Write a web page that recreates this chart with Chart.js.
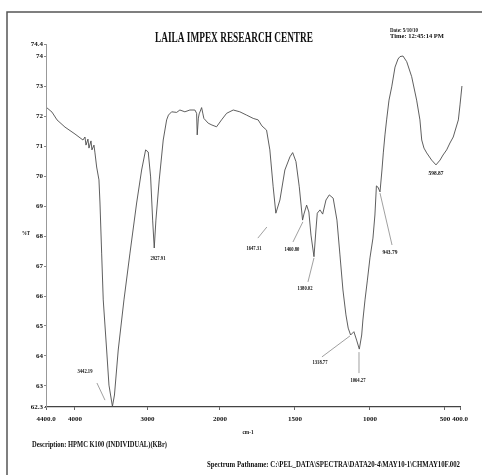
<!DOCTYPE html>
<html>
<head>
<meta charset="utf-8">
<script src="https://cdn.jsdelivr.net/npm/chart.js@4.4.1/dist/chart.umd.min.js"></script>
<style>
  html, body { margin: 0; padding: 0; background: #fff; }
  canvas { display: block; }
</style>
</head>
<body>
<canvas id="irChart" width="482" height="475"></canvas>
<script>
// spectrum (cm-1 / %T)
const wavenumber = [
    4386, 4317, 4248, 4138, 4000, 3890, 3862, 3848, 3821, 3807, 3779, 3766, 3738, 3724, 3701,
    3669, 3655, 3632, 3610, 3563, 3531, 3483, 3455, 3403, 3324, 3241, 3149, 3080, 3025, 2989,
    2956, 2928, 2906, 2883, 2837, 2782, 2735, 2710, 2666, 2597, 2552, 2483, 2414, 2345, 2321,
    2313, 2297, 2286, 2252, 2234, 2221, 2161, 2110, 2046, 1989, 1955, 1911, 1867, 1822, 1778,
    1745, 1720, 1689, 1667, 1645, 1627, 1600, 1567, 1533, 1515, 1493, 1471, 1449, 1440, 1422,
    1407, 1393, 1373, 1360, 1351, 1333, 1315, 1293, 1271, 1245, 1220, 1200, 1180, 1160, 1145,
    1129, 1107, 1089, 1071, 1055, 1047, 1033, 1017, 1000, 980, 967, 957, 947, 933, 920,
    911, 900, 889, 873, 855, 833, 813, 800, 780, 755, 722, 689, 667, 655, 640,
    622, 589, 560, 533, 513, 489, 467, 445, 411, 400, 387
];
const transmittance = [
    72.27, 72.13, 71.87, 71.63, 71.40, 71.20, 71.30, 71.03, 71.23, 70.93, 71.17, 70.87, 71.03, 70.77, 70.30,
    69.87, 69.10, 67.43, 65.87, 64.20, 63.03, 62.32, 62.70, 64.20, 65.87, 67.43, 69.10, 70.20, 70.87, 70.80,
    69.97, 68.53, 67.60, 68.53, 69.87, 71.20, 71.87, 72.03, 72.14, 72.12, 72.20, 72.14, 72.20, 72.20, 72.09,
    71.37, 71.93, 72.07, 72.28, 72.07, 71.92, 71.76, 71.70, 71.64, 71.87, 72.09, 72.20, 72.14, 72.03, 71.92,
    71.87, 71.67, 71.53, 70.87, 69.64, 68.76, 69.20, 70.20, 70.64, 70.78, 70.48, 69.64, 68.53, 68.73, 69.03,
    68.80, 68.03, 67.31, 68.20, 68.76, 68.87, 68.73, 69.20, 69.37, 69.26, 68.53, 67.37, 66.20, 65.37, 64.93,
    64.70, 64.81, 64.53, 64.23, 64.70, 65.20, 65.87, 66.53, 67.27, 67.93, 68.70, 69.67, 69.63, 69.47, 70.20,
    70.77, 71.37, 71.87, 72.53, 72.97, 73.63, 73.90, 73.98, 74.00, 73.81, 73.31, 72.53, 71.87, 71.20, 70.93,
    70.77, 70.53, 70.37, 70.53, 70.70, 70.87, 71.10, 71.30, 71.87, 72.37, 73.00
];

const xTicks = [4400, 4000, 3000, 2000, 1500, 1000, 500, 400];
const yTicks = [62.3, 63, 64, 65, 66, 67, 68, 69, 70, 71, 72, 73, 74, 74.4];

const peakLabels = ["3442.19", "2927.91", "1647.31", "1460.80", "1380.02", "1318.77", "1064.27", "943.79", "598.87"];

// where each peak label sits and its leader line, in axis units (cm-1, %T)
const peakNotes = [
    { at: [3862, 63.53], line: [[3697, 63.10], [3586, 62.53]] },
    { at: [2855, 67.27], line: null },
    { at: [1773, 67.63], line: [[1747, 67.93], [1687, 68.30]] },
    { at: [1520, 67.60], line: [[1513, 67.80], [1447, 68.47]] },
    { at: [1433, 66.27], line: [[1413, 66.47], [1373, 67.27]] },
    { at: [1333, 63.83], line: [[1320, 63.97], [1133, 64.67]] },
    { at: [1080, 63.23], line: [[1073, 63.43], [1073, 64.13]] },
    { at: [867, 67.50], line: [[853, 67.70], [933, 69.43]] },
    { at: [560, 70.13], line: null }
];

const X_MAX = 4400, X_BREAK = 2000, X_MIN = 400;
const SPLIT = 0.42;   // below 2000 cm-1 the axis is stretched 2x

// 📏 piecewise wavenumber axis (PerkinElmer style)
class WavenumberScale extends Chart.LinearScale {
    getPixelForValue(value) {
        let f;
        if (value >= X_BREAK) f = (X_MAX - value) / (X_MAX - X_BREAK) * SPLIT;
        else f = SPLIT + (X_BREAK - value) / (X_BREAK - X_MIN) * (1 - SPLIT);
        return this.left + f * this.width;
    }
    getValueForPixel(pixel) {
        const f = (pixel - this.left) / this.width;
        if (f <= SPLIT) return X_MAX - f / SPLIT * (X_MAX - X_BREAK);
        return X_BREAK - (f - SPLIT) / (1 - SPLIT) * (X_BREAK - X_MIN);
    }
}
WavenumberScale.id = 'wavenumber';
WavenumberScale.defaults = Chart.LinearScale.defaults;
Chart.register(WavenumberScale);

function fitText(ctx, text, x, y, width, font, align) {
    ctx.save();
    ctx.font = font;
    const k = width / ctx.measureText(text).width;
    ctx.translate(x, y);
    ctx.scale(k, 1);
    ctx.textAlign = align || 'left';
    ctx.fillText(text, 0, 0);
    ctx.restore();
}

// 🖨️ printout decorations
const printout = {
    id: 'printout',
    afterDraw(chart) {
        const ctx = chart.ctx;
        const xs = chart.scales.x, ys = chart.scales.y;
        const px = w => xs.getPixelForValue(w);
        const py = t => ys.getPixelForValue(t);

        ctx.save();
        // frame
        ctx.strokeStyle = '#555';
        ctx.lineWidth = 1.5;
        ctx.beginPath();
        ctx.moveTo(7, 475);
        ctx.lineTo(7, 12);
        ctx.lineTo(482, 12);
        ctx.stroke();

        ctx.fillStyle = '#111';
        ctx.textBaseline = 'alphabetic';
        fitText(ctx, 'LAILA IMPEX RESEARCH CENTRE', 234, 42, 158, 'bold 14px "Liberation Serif"', 'center');
        fitText(ctx, 'Date: 5/10/10', 390, 32, 28, 'bold 7px "Liberation Serif"');
        fitText(ctx, 'Time: 12:45:14 PM', 390, 38, 54, 'bold 7px "Liberation Serif"');
        fitText(ctx, '%T', 22, 235, 8, 'bold 7px "Liberation Serif"');
        fitText(ctx, 'cm-1', 248, 434, 11, 'bold 7px "Liberation Serif"', 'center');
        fitText(ctx, 'Description: HPMC K100 (INDIVIDUAL)(KBr)', 32, 447, 135, 'bold 8px "Liberation Serif"');
        fitText(ctx, 'Spectrum Pathname: C:\\PEL_DATA\\SPECTRA\\DATA20-4\\MAY10-1\\CHMAY10F.002', 207, 467, 253, 'bold 8px "Liberation Serif"');

        // peak labels
        ctx.strokeStyle = '#888';
        ctx.lineWidth = 0.8;
        peakNotes.forEach((n, i) => {
            if (n.line) {
                ctx.beginPath();
                ctx.moveTo(px(n.line[0][0]), py(n.line[0][1]));
                ctx.lineTo(px(n.line[1][0]), py(n.line[1][1]));
                ctx.stroke();
            }
            fitText(ctx, peakLabels[i], px(n.at[0]), py(n.at[1]) + 2.5, 15, 'bold 6px "Liberation Serif"', 'center');
        });
        ctx.restore();
    }
};

window.onload = () => {
    const ctx = document.getElementById('irChart').getContext('2d');
    const tickFont = { family: '"Liberation Serif"', size: 7, weight: 'bold' };

    new Chart(ctx, {
        type: 'line',
        data: {
            datasets: [{
                data: wavenumber.map((w, i) => ({ x: w, y: transmittance[i] })),
                borderColor: '#4d4d4d',
                borderWidth: 0.9,
                pointRadius: 0,
                tension: 0,
                fill: false,
                clip: false
            }]
        },
        options: {
            responsive: false,
            devicePixelRatio: 1,
            animation: false,
            events: [],
            layout: { padding: { top: 44, left: 10, right: 22, bottom: 0 } },
            plugins: {
                legend: { display: false },
                tooltip: { enabled: false }
            },
            scales: {
                x: {
                    type: 'wavenumber',
                    min: X_MIN,
                    max: X_MAX,
                    afterBuildTicks: axis => { axis.ticks = xTicks.map(v => ({ value: v })); },
                    afterFit: axis => { axis.height = 68; },
                    grid: { drawOnChartArea: false, tickLength: 3, color: '#666' },
                    border: { display: true, color: '#444', width: 1.2 },
                    ticks: {
                        autoSkip: false,
                        maxRotation: 0,
                        padding: 5,
                        color: '#111',
                        font: tickFont,
                        callback: v => (v === X_MAX || v === X_MIN) ? v.toFixed(1) : String(v)
                    }
                },
                y: {
                    type: 'linear',
                    min: 62.3,
                    max: 74.4,
                    afterBuildTicks: axis => { axis.ticks = yTicks.map(v => ({ value: v })); },
                    afterFit: axis => { axis.width = 36; },
                    grid: { drawOnChartArea: false, tickLength: 2, color: '#888' },
                    border: { display: true, color: '#999', width: 1 },
                    ticks: {
                        autoSkip: false,
                        padding: 1,
                        color: '#111',
                        font: tickFont,
                        callback: v => String(v)
                    }
                }
            }
        },
        plugins: [printout]
    });
};
</script>
</body>
</html>
